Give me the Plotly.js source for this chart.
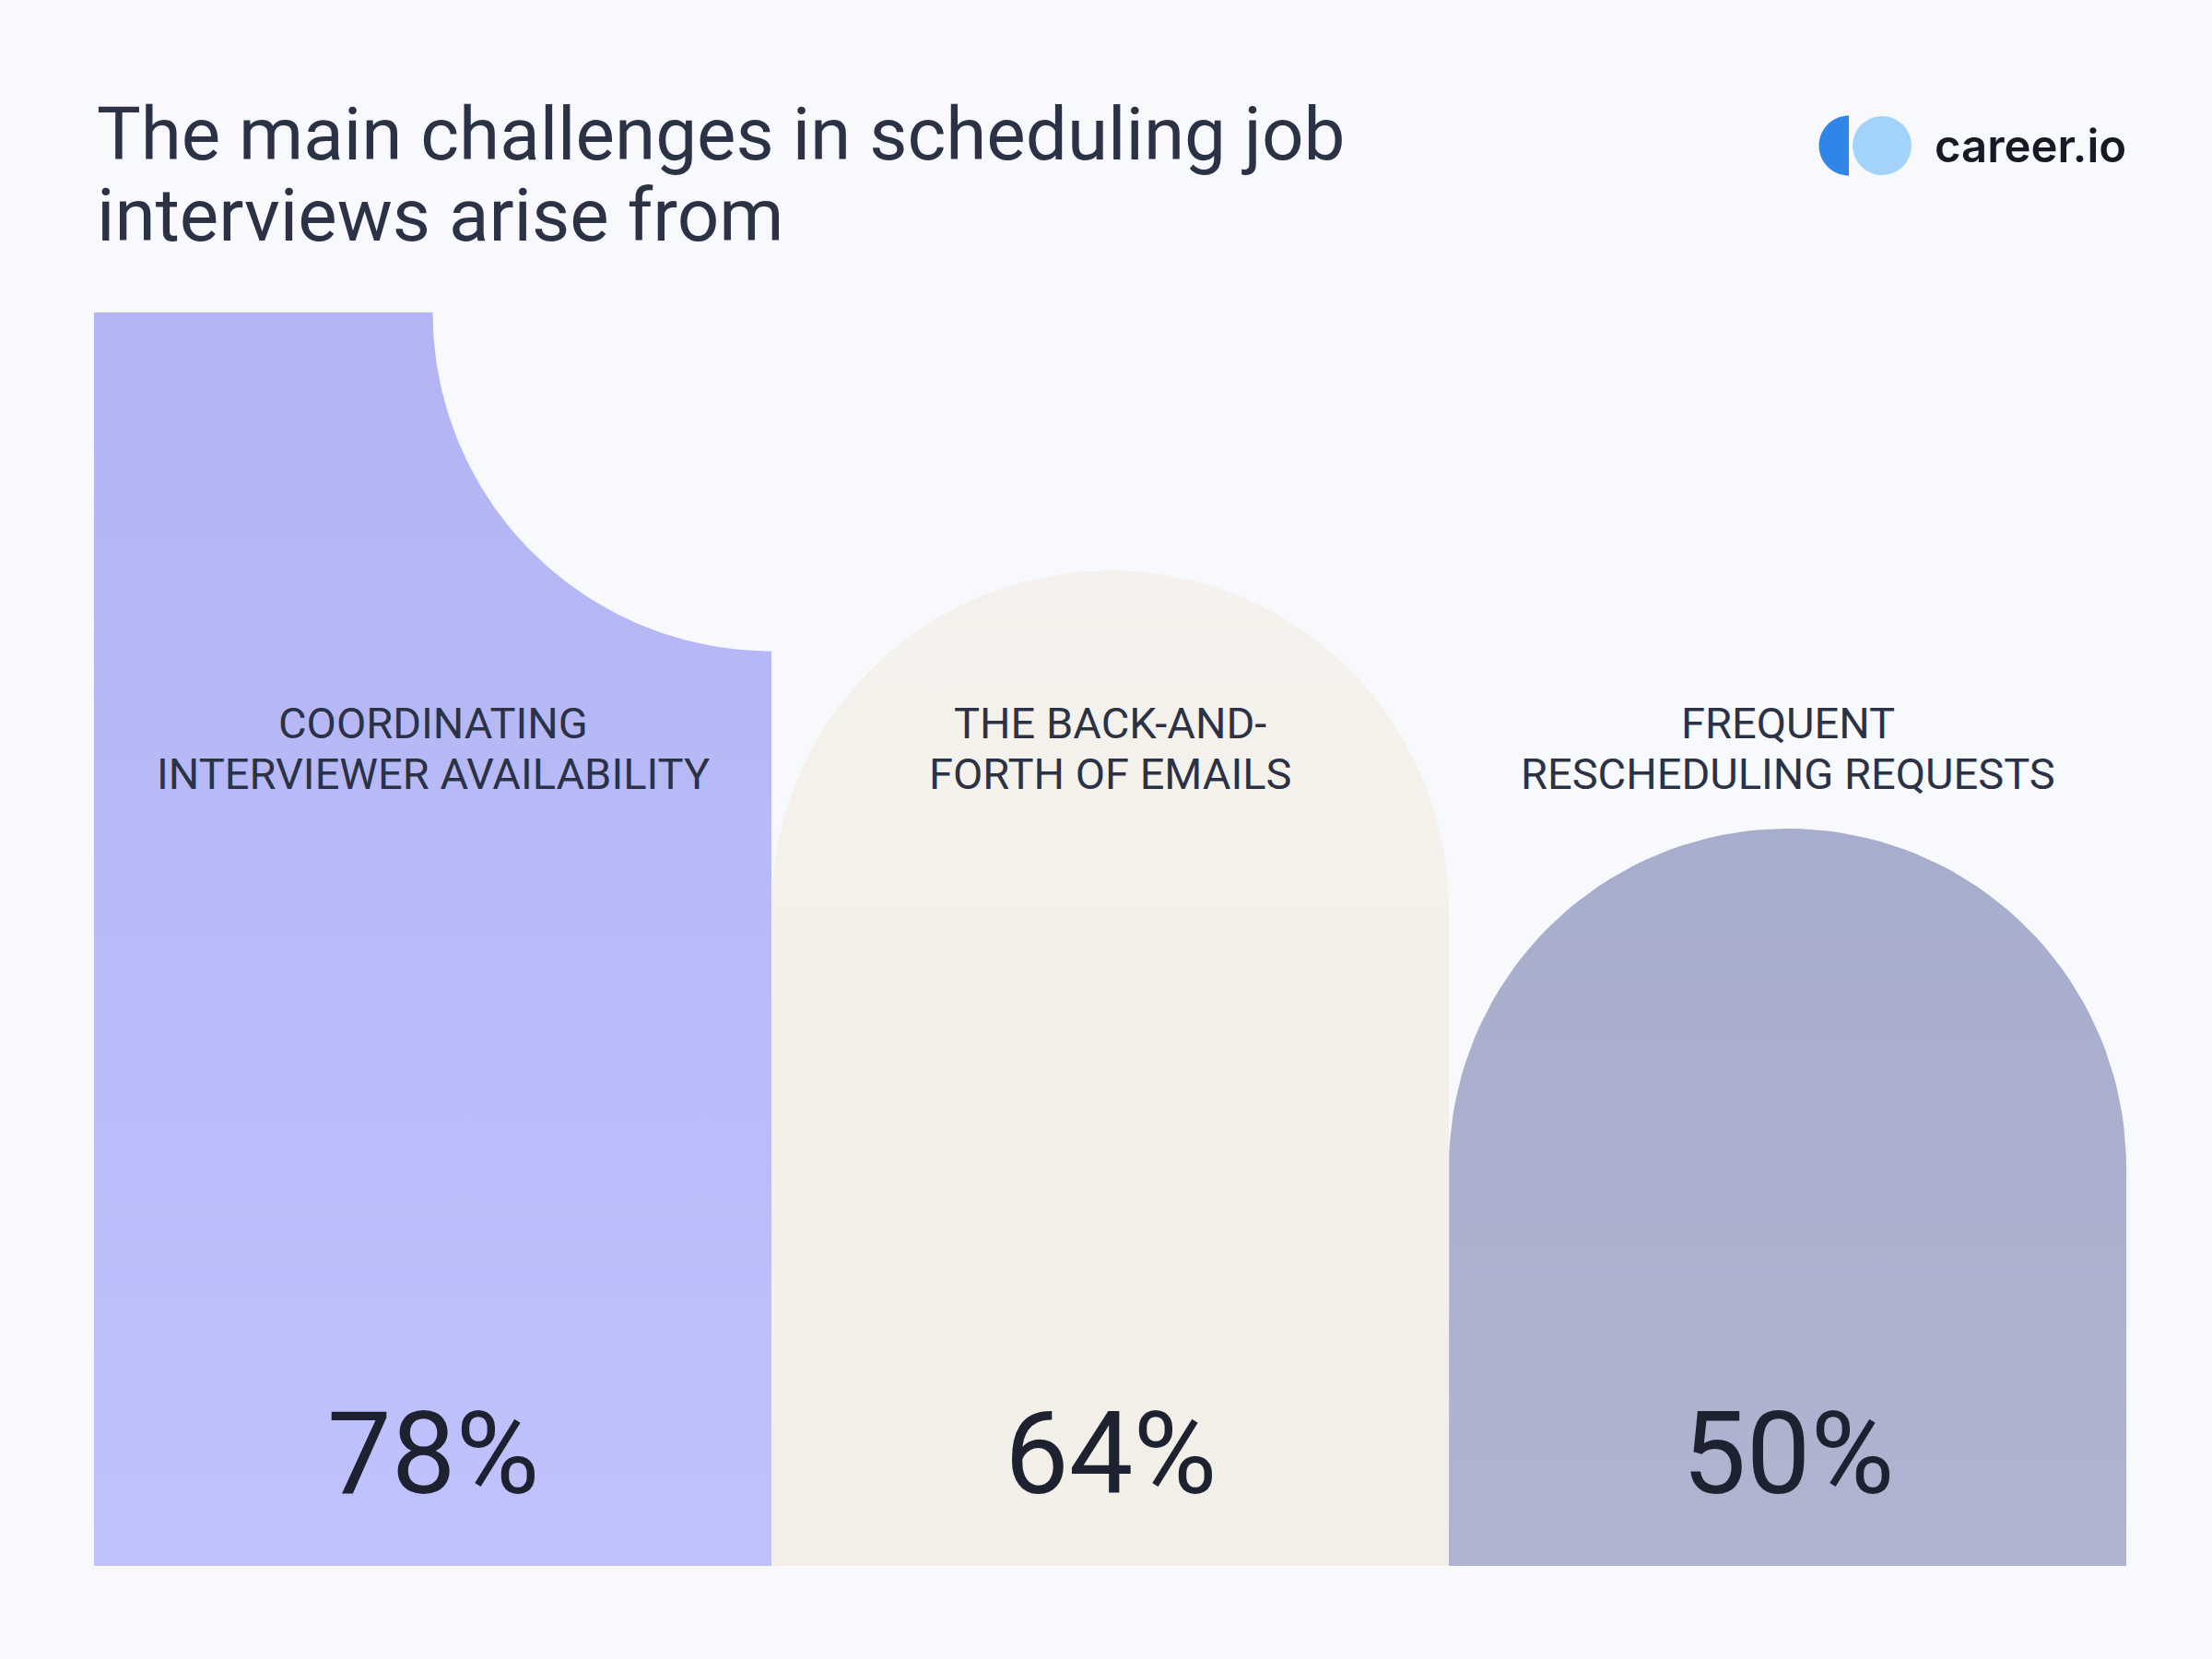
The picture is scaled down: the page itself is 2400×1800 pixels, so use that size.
<!DOCTYPE html>
<html>
<head>
<meta charset="utf-8">
<script src="https://cdn.plot.ly/plotly-3.0.1.min.js"></script>
<style>html,body{margin:0;padding:0;background:#f7f9fc;}</style>
</head>
<body>
<div id="chart" style="width:2400px;height:1800px;"></div>
<script>
// ---- data ----
const categories = [
  "COORDINATING<br>INTERVIEWER AVAILABILITY",
  "THE BACK-AND-<br>FORTH OF EMAILS",
  "FREQUENT<br>RESCHEDULING REQUESTS"
];
const values = [78, 64, 50];
const valueLabels = ["78%", "64%", "50%"];
const titleLines = ["The main challenges in scheduling job", "interviews arise from"];
const brandText = "career.io";

// ---- styles ----
const W = 2400, H = 1800;
const M = {l: 102, r: 93, t: 99, b: 101};
const yRange = [10, 90];
const shapeKinds = ["notch", "arch", "arch"];
const fills = [
  {top: "#b2b4f3", bottom: "#c0c2fe"},
  {top: "#f5f2ed", bottom: "#f2efe8"},
  {top: "#a7adcc", bottom: "#b0b4d1"}
];
const textColor = "#2b3245";
const numColor = "#1d2130";
const FONT = "Roboto, 'Liberation Sans', sans-serif";

const plotW = W - M.l - M.r, plotH = H - M.t - M.b;
const xPerPx = 3 / plotW;
const yPerPx = (yRange[1] - yRange[0]) / plotH;
const base = yRange[0];

function barPolygon(i, v, kind) {
  const x0 = i - 0.5, x1 = i + 0.5, xc = i;
  const rx = 0.5;
  const ry = (rx / xPerPx) * yPerPx;
  const xs = [], ys = [];
  const N = 80;
  if (kind === "notch") {
    xs.push(x0, x0, xc); ys.push(base, v, v);
    for (let k = 0; k <= N; k++) {
      const t = Math.PI + (Math.PI / 2) * k / N;
      xs.push(x1 + rx * Math.cos(t)); ys.push(v + ry * Math.sin(t));
    }
    xs.push(x1, x0); ys.push(base, base);
  } else {
    const cy = v - ry;
    xs.push(x0, x0); ys.push(base, cy);
    for (let k = 0; k <= N; k++) {
      const t = Math.PI - Math.PI * k / N;
      xs.push(xc + rx * Math.cos(t)); ys.push(cy + ry * Math.sin(t));
    }
    xs.push(x1, x0); ys.push(base, base);
  }
  return {xs, ys};
}

const traces = values.map((v, i) => {
  const p = barPolygon(i, v, shapeKinds[i]);
  return {
    type: "scatter", mode: "lines", x: p.xs, y: p.ys,
    fill: "toself",
    fillcolor: fills[i].bottom,
    fillgradient: {type: "vertical", colorscale: [[0, fills[i].bottom], [1, fills[i].top]]},
    line: {width: 0, color: "rgba(0,0,0,0)"},
    hoverinfo: "skip", showlegend: false
  };
});

// pixel helpers for paper coords
const px2paperX = px => (px - M.l) / plotW;
const px2paperY = py => (H - M.b - py) / plotH;

const annotations = [];
const titleCenters = [146, 234];
titleLines.forEach((t, k) => {
  annotations.push({
    xref: "paper", yref: "paper", x: px2paperX(103), y: px2paperY(titleCenters[k]),
    xanchor: "left", yanchor: "middle", align: "left", showarrow: false,
    text: t,
    font: {family: FONT, size: 80, color: textColor}
  });
});
annotations.push({
  xref: "paper", yref: "paper", x: px2paperX(2097), y: px2paperY(158),
  xanchor: "left", yanchor: "middle", showarrow: false,
  text: brandText,
  font: {family: "Inter, 'Noto Sans', sans-serif", size: 49, color: "#161a25", weight: 600}
});
const labelCenters = [784, 839];
categories.forEach((c, i) => {
  c.split("<br>").forEach((line, k) => {
    annotations.push({
      xref: "x", yref: "paper", x: i, y: px2paperY(labelCenters[k]),
      xanchor: "center", yanchor: "middle", align: "center", showarrow: false,
      text: line,
      font: {family: FONT, size: 47, color: textColor}
    });
  });
  annotations.push({
    xref: "x", yref: "paper", x: i, y: px2paperY(1577),
    xanchor: "center", yanchor: "middle", showarrow: false,
    text: valueLabels[i],
    font: {family: FONT, size: 124, color: numColor}
  });
});

// logo shapes
function halfDiscPath(cx, cy, r) {
  let d = `M ${px2paperX(cx)} ${px2paperY(cy - r)}`;
  const N = 40;
  for (let k = 0; k <= N; k++) {
    const t = -Math.PI / 2 - Math.PI * k / N;
    d += ` L ${px2paperX(cx + r * Math.cos(t))} ${px2paperY(cy + r * Math.sin(t))}`;
  }
  return d + " Z";
}
const shapes = [
  {type: "path", xref: "paper", yref: "paper", path: halfDiscPath(2006, 158, 32.5),
   fillcolor: "#2f86e8", line: {width: 0}},
  {type: "circle", xref: "paper", yref: "paper",
   x0: px2paperX(2010), x1: px2paperX(2074), y0: px2paperY(190), y1: px2paperY(126),
   fillcolor: "#a3d3fb", line: {width: 0}}
];

const layout = {
  width: W, height: H,
  margin: M,
  paper_bgcolor: "#f7f9fc", plot_bgcolor: "#f7f9fc",
  xaxis: {range: [-0.5, 2.5], visible: false, fixedrange: true},
  yaxis: {range: yRange, visible: false, fixedrange: true},
  annotations, shapes, showlegend: false
};
Plotly.newPlot("chart", traces, layout, {staticPlot: true, displayModeBar: false});
</script>
</body>
</html>
